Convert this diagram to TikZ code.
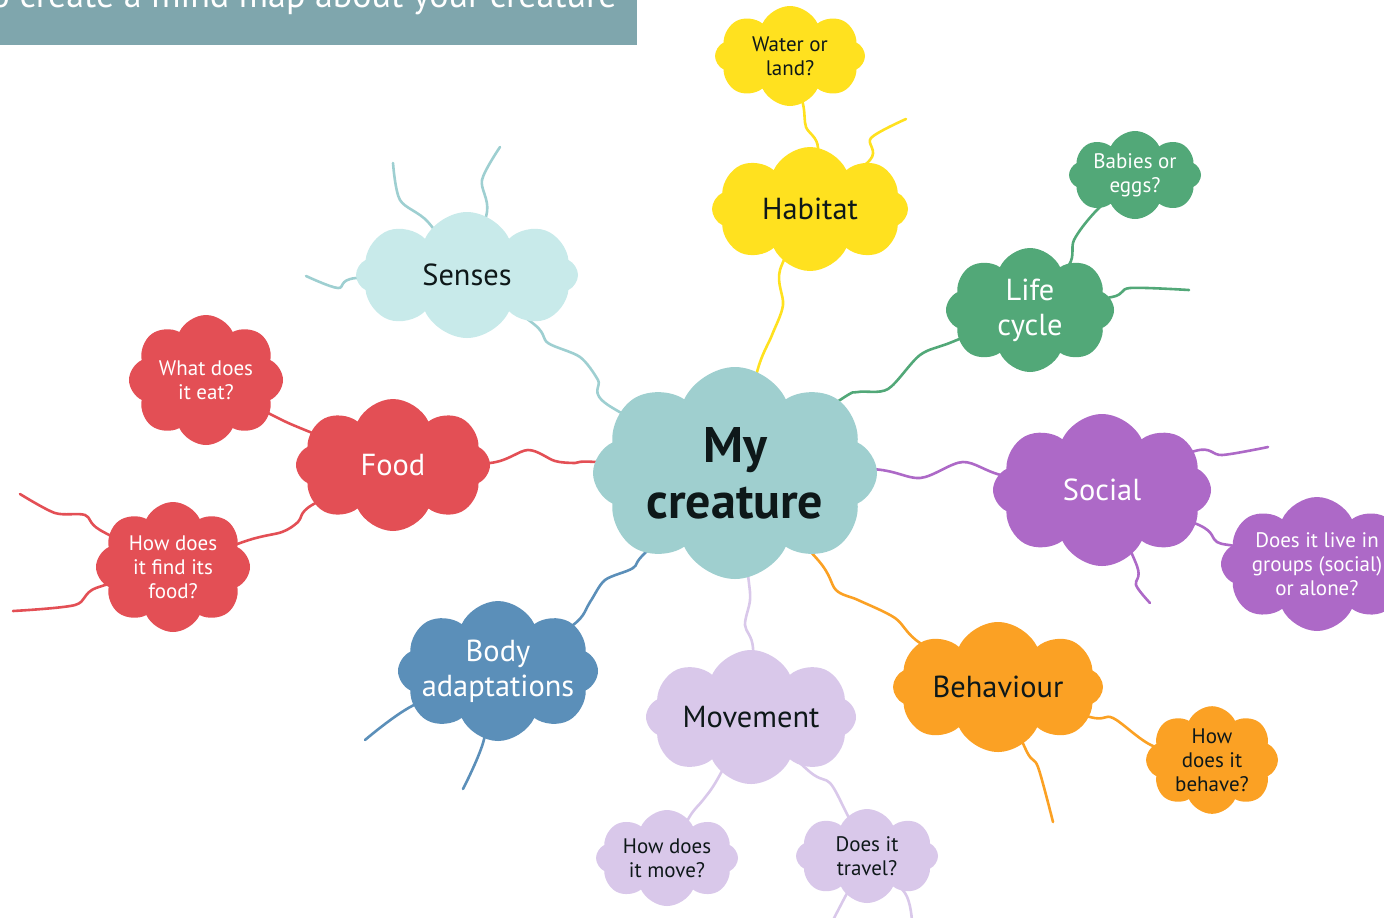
\documentclass[tikz,border=0pt]{standalone}
\usepackage{fontspec}
\setmainfont{PT Sans}
\usepackage{tikz}
\usetikzlibrary{shapes.symbols,backgrounds}

\definecolor{coreteal}{HTML}{9FCFCF}
\definecolor{sensecyan}{HTML}{C8EAEA}
\definecolor{senseline}{HTML}{9ECFD1}
\definecolor{foodred}{HTML}{E34F55}
\definecolor{habyellow}{HTML}{FFE11F}
\definecolor{lifegreen}{HTML}{52A878}
\definecolor{socpurple}{HTML}{AD69C7}
\definecolor{behorange}{HTML}{FBA124}
\definecolor{movlilac}{HTML}{D9C8EA}
\definecolor{bodyblue}{HTML}{5B8FB9}
\definecolor{bannergrey}{HTML}{7FA6AD}
\definecolor{inkdark}{HTML}{0E1819}

\newcommand{\toptxt}{\fontsize{15.2}{17.5}\selectfont}
\newcommand{\asktxt}{\fontsize{10.5}{12}\selectfont}
\newcommand{\coretxt}{\fontsize{25}{28}\selectfont\bfseries}

\begin{document}
\begin{tikzpicture}
		[
		x = 0.5pt, y = -0.5pt,
		puff/.style = {cloud, cloud puffs = 8, cloud puff arc = 130, cloud ignores aspect, inner sep = 0pt, align = center},
		topic/.style = {puff, font = \toptxt},
		ask/.style = {puff, font = \asktxt},
		link/.style = {line width = 1.3pt, line cap = round, line join = round}
		]
		
		\useasboundingbox (0,0) rectangle (1384,917);
		
		% banner
		\fill[bannergrey] (0,0) rectangle (637,45);
		\node[anchor = base east, inner sep = 0pt, text = white, font = \fontsize{18}{20}\selectfont] (banner) at (617,7) {How to create a mind map about your creature};
		
		% centre
		\node[puff, font = \coretxt, fill = coreteal, text = inkdark, minimum width = 142pt, minimum height = 106pt] (core) at (735,473) {My\\creature};
		
		% main topics
		\node[topic, fill = sensecyan, text = inkdark, minimum width = 111pt, minimum height = 63pt] (senses) at (467,275) {Senses};
		\node[topic, fill = habyellow, text = inkdark, minimum width = 98pt, minimum height = 62pt] (habitat) at (810,209) {Habitat};
		\node[topic, fill = lifegreen, text = white, minimum width = 84pt, minimum height = 62pt] (life) at (1030,310) {Life\\cycle};
		\node[topic, fill = socpurple, text = white, minimum width = 109pt, minimum height = 76pt] (social) at (1102,490) {Social};
		\node[topic, fill = behorange, text = inkdark, minimum width = 105pt, minimum height = 65pt] (behaviour) at (998,687) {Behaviour};
		\node[topic, fill = movlilac, text = inkdark, minimum width = 105pt, minimum height = 67pt] (movement) at (751,717) {Movement};
		\node[topic, fill = bodyblue, text = white, inner xsep = -7pt, minimum width = 100pt, minimum height = 70pt] (body) at (498,671) {Body\\adaptations};
		\node[topic, fill = foodred, text = white, minimum width = 97pt, minimum height = 66pt] (food) at (393,465) {Food};
		
		% questions
		\node[ask, fill = habyellow, text = inkdark, minimum width = 75pt, minimum height = 50pt] (water) at (790,56) {Water or\\land?};
		\node[ask, fill = lifegreen, text = white, minimum width = 66pt, minimum height = 44pt] (babies) at (1135,175) {Babies or\\eggs?};
		\node[ask, fill = socpurple, text = white, minimum width = 85pt, minimum height = 67pt] (groups) at (1317,564) {Does it live in\\groups (social)\\or alone?};
		\node[ask, fill = behorange, text = inkdark, minimum width = 66pt, minimum height = 53pt] (behave) at (1212,760) {How\\does it\\behave?};
		\node[ask, fill = movlilac, text = inkdark, minimum width = 71pt, minimum height = 48pt] (move) at (667,858) {How does\\it move?};
		\node[ask, fill = movlilac, text = inkdark, minimum width = 71pt, minimum height = 47pt] (travel) at (867,856) {Does it\\travel?};
		\node[ask, fill = foodred, text = white, minimum width = 77pt, minimum height = 65pt] (eat) at (206,380) {What does\\it eat?};
		\node[ask, fill = foodred, text = white, minimum width = 77pt, minimum height = 65pt] (find) at (173,567) {How does\\it find its\\food?};
		
		% loose ends
		\coordinate (senseA) at (393,163);
		\coordinate (senseB) at (500,147);
		\coordinate (senseC) at (306,276);
		\coordinate (habitatA) at (906,119);
		\coordinate (lifeA) at (1189,290);
		\coordinate (socialA) at (1268,447);
		\coordinate (socialB) at (1150,603);
		\coordinate (behaviourA) at (1053,822);
		\coordinate (travelA) at (832,922);
		\coordinate (travelB) at (912,922);
		\coordinate (bodyA) at (365,740);
		\coordinate (bodyB) at (463,789);
		\coordinate (findA) at (20,494);
		\coordinate (findB) at (13,611);
		
		\begin{scope}[on background layer]
		\begin{scope}[link]
			\draw[senseline] plot[smooth, tension = .5] coordinates {(core) (608,405) (598,380) (580,357) (548,343) (535,325) (senses)};
			\draw[senseline] plot[smooth, tension = .5] coordinates {(senses) (428,222) (400,200) (senseA)};
			\draw[senseline] plot[smooth, tension = .5] coordinates {(senses) (487,212) (482,180) (senseB)};
			\draw[senseline] plot[smooth, tension = .5] coordinates {(senses) (356,278) (338,288) (senseC)};
			
			\draw[habyellow] plot[smooth, tension = .5] coordinates {(core) (757,372) (772,335) (783,305) (780,270) (habitat)};
			\draw[habyellow] plot[smooth, tension = .5] coordinates {(habitat) (818,148) (806,127) (803,104) (water)};
			\draw[habyellow] plot[smooth, tension = .5] coordinates {(habitat) (870,160) (871,138) (habitatA)};
			
			\draw[lifegreen] plot[smooth, tension = .5] coordinates {(core) (840,400) (858,392) (888,389) (920,355) (952,342) (life)};
			\draw[lifegreen] plot[smooth, tension = .5] coordinates {(life) (1069,265) (1074,240) (1095,212) (babies)};
			\draw[lifegreen] plot[smooth, tension = .5] coordinates {(life) (1112,297) (1130,288) (lifeA)};
			
			\draw[socpurple] plot[smooth, tension = .5] coordinates {(core) (870,469) (920,478) (963,462) (1005,476) (social)};
			\draw[socpurple] plot[smooth, tension = .5] coordinates {(social) (1195,451) (1222,455) (socialA)};
			\draw[socpurple] plot[smooth, tension = .5] coordinates {(social) (1199,525) (1217,542) (1240,547) (groups)};
			\draw[socpurple] plot[smooth, tension = .5] coordinates {(social) (1137,566) (1136,585) (socialB)};
			
			\draw[behorange] plot[smooth, tension = .5] coordinates {(core) (818,560) (836,590) (858,600) (895,618) (920,643) (behaviour)};
			\draw[behorange] plot[smooth, tension = .5] coordinates {(behaviour) (1090,717) (1113,718) (1153,746) (behave)};
			\draw[behorange] plot[smooth, tension = .5] coordinates {(behaviour) (1027,752) (1038,767) (behaviourA)};
			
			\draw[movlilac] plot[smooth, tension = .5] coordinates {(core) (748,575) (750,600) (745,625) (753,648) (movement)};
			\draw[movlilac] plot[smooth, tension = .5] coordinates {(movement) (717,780) (703,800) (690,816) (move)};
			\draw[movlilac] plot[smooth, tension = .5] coordinates {(movement) (810,772) (830,783) (845,810) (travel)};
			\draw[movlilac] plot[smooth, tension = .5] coordinates {(travel) (845,897) (travelA)};
			\draw[movlilac] plot[smooth, tension = .5] coordinates {(travel) (905,893) (travelB)};
			
			\draw[bodyblue] plot[smooth, tension = .5] coordinates {(core) (647,551) (633,568) (605,580) (590,602) (573,625) (body)};
			\draw[bodyblue] plot[smooth, tension = .5] coordinates {(body) (412,706) (bodyA)};
			\draw[bodyblue] plot[smooth, tension = .5] coordinates {(body) (483,743) (bodyB)};
			
			\draw[foodred] plot[smooth, tension = .5] coordinates {(core) (596,462) (575,463) (555,461) (528,450) (490,463) (food)};
			\draw[foodred] plot[smooth, tension = .5] coordinates {(food) (305,430) (274,416) (eat)};
			\draw[foodred] plot[smooth, tension = .5] coordinates {(food) (312,505) (298,522) (282,532) (249,540) (find)};
			\draw[foodred] plot[smooth, tension = .5] coordinates {(find) (100,530) (85,515) (55,513) (findA)};
			\draw[foodred] plot[smooth, tension = .5] coordinates {(find) (96,588) (75,605) (findB)};
		\end{scope}
		\end{scope}
		
		\end{tikzpicture}
\end{document}
